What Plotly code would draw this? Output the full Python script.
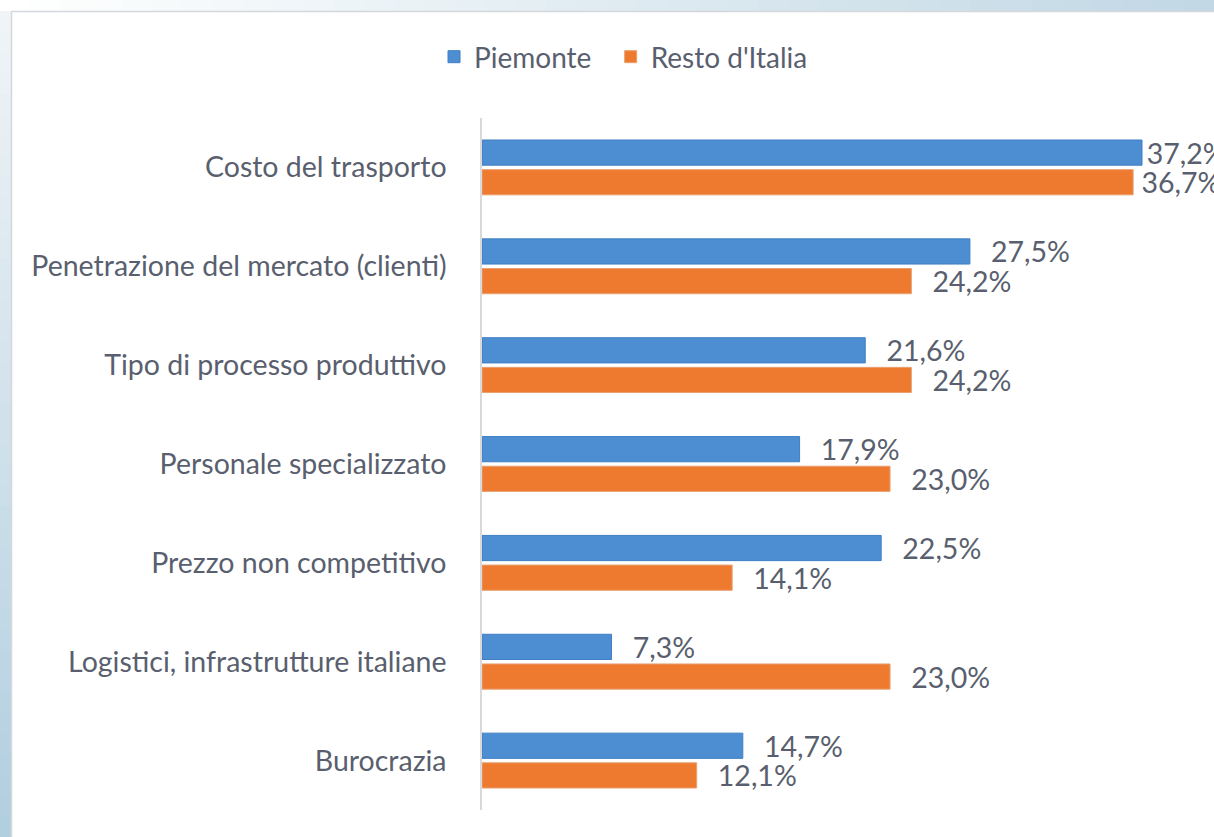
import plotly.graph_objects as go

categories = ["Costo del trasporto", "Penetrazione del mercato (clienti)", "Tipo di processo produttivo",
              "Personale specializzato", "Prezzo non competitivo", "Logistici, infrastrutture italiane",
              "Burocrazia"]
piemonte = [37.2, 27.5, 21.6, 17.9, 22.5, 7.3, 14.7]
resto_italia = [36.7, 24.2, 24.2, 23.0, 14.1, 23.0, 12.1]
series_names = ["Piemonte", "Resto d'Italia"]

W, H = 1214, 837
L, R, T, B = 482, 0, 118, 27
pw, ph = W - L - R, H - T - B

def px_x(px):
    return (px - L) / pw

def px_y(py):
    return (H - B - py) / ph

FONT = "Lato"
TXT = "#595f6e"
GAP = "\u00a0\u00a0\u2009"
# first category's labels sit closer to the bar end (as in the reference)
tmpl_p = ["\u200a%{x:.1f}%"] + [GAP + "%{x:.1f}%"] * (len(categories) - 1)
tmpl_r = ["\u2009\u200a%{x:.1f}%"] + [GAP + "%{x:.1f}%"] * (len(categories) - 1)

fig = go.Figure()
fig.add_trace(go.Bar(
    y=categories, x=piemonte, name=series_names[0] + "\u00a0\u00a0", orientation="h",
    marker=dict(color="#4d8ed2", line=dict(color="#3f7fc4", width=1)),
    texttemplate=tmpl_p, textposition="outside", cliponaxis=False,
    constraintext="none",
    textfont=dict(family=FONT, size=28.5, color=TXT),
))
fig.add_trace(go.Bar(
    y=categories, x=resto_italia, name=series_names[1], orientation="h",
    marker=dict(color="#ee7a30", line=dict(color="#e8a070", width=1)),
    texttemplate=tmpl_r, textposition="outside", cliponaxis=False,
    constraintext="none",
    textfont=dict(family=FONT, size=28.5, color=TXT),
))

shapes = []
n = 40
c0 = (255, 255, 255)
c1 = (194, 217, 229)
for i in range(n):
    t = i / (n - 1)
    col = tuple(int(c0[k] + (c1[k] - c0[k]) * t) for k in range(3))
    x0 = i * W / n
    x1 = (i + 1) * W / n + 1
    shapes.append(dict(type="rect", xref="paper", yref="paper", layer="below",
                       x0=px_x(x0), x1=px_x(x1), y0=px_y(11), y1=px_y(0),
                       fillcolor="rgb(%d,%d,%d)" % col, line=dict(width=0)))
c0 = (240, 244, 247)
c1 = (178, 207, 224)
for i in range(n):
    t = i / (n - 1)
    col = tuple(int(c0[k] + (c1[k] - c0[k]) * t) for k in range(3))
    y0 = 11 + i * (H - 11) / n
    y1 = 11 + (i + 1) * (H - 11) / n + 1
    shapes.append(dict(type="rect", xref="paper", yref="paper", layer="below",
                       x0=px_x(0), x1=px_x(11), y0=px_y(y1), y1=px_y(y0),
                       fillcolor="rgb(%d,%d,%d)" % col, line=dict(width=0)))
shapes.append(dict(type="line", xref="paper", yref="paper", layer="below",
                   x0=px_x(11.5), x1=px_x(11.5), y0=px_y(H), y1=px_y(11.5),
                   line=dict(color="#d4d8dc", width=1.5)))
shapes.append(dict(type="line", xref="paper", yref="paper", layer="below",
                   x0=px_x(11.5), x1=px_x(W), y0=px_y(11.5), y1=px_y(11.5),
                   line=dict(color="#d4d8dc", width=1.5)))

fig.update_layout(
    width=W, height=H,
    margin=dict(l=L, r=R, t=T, b=B, pad=0),
    paper_bgcolor="white", plot_bgcolor="rgba(0,0,0,0)",
    barmode="group", bargap=0.40, bargroupgap=0.15,
    separators=",.",
    font=dict(family=FONT, size=28, color=TXT),
    showlegend=True,
    legend=dict(orientation="h", xref="container", yref="container",
                x=434 / W, y=1 - 57 / H, xanchor="left", yanchor="middle",
                font=dict(family=FONT, size=28, color=TXT),
                itemwidth=30, tracegroupgap=0, bgcolor="rgba(0,0,0,0)"),
    xaxis=dict(range=[0, pw / (660 / 37.2)], visible=False, showgrid=False, zeroline=False),
    yaxis=dict(autorange="reversed", showline=True, linecolor="#d9d9d9", linewidth=1.5,
               ticks="outside", ticklen=28, tickcolor="rgba(0,0,0,0)", showgrid=False,
               tickfont=dict(family=FONT, size=28.5, color=TXT)),
    shapes=shapes,
)

fig.write_html("out.html", config={"displayModeBar": False},
               post_script="document.body.style.margin='0';document.body.style.overflow='hidden';")
